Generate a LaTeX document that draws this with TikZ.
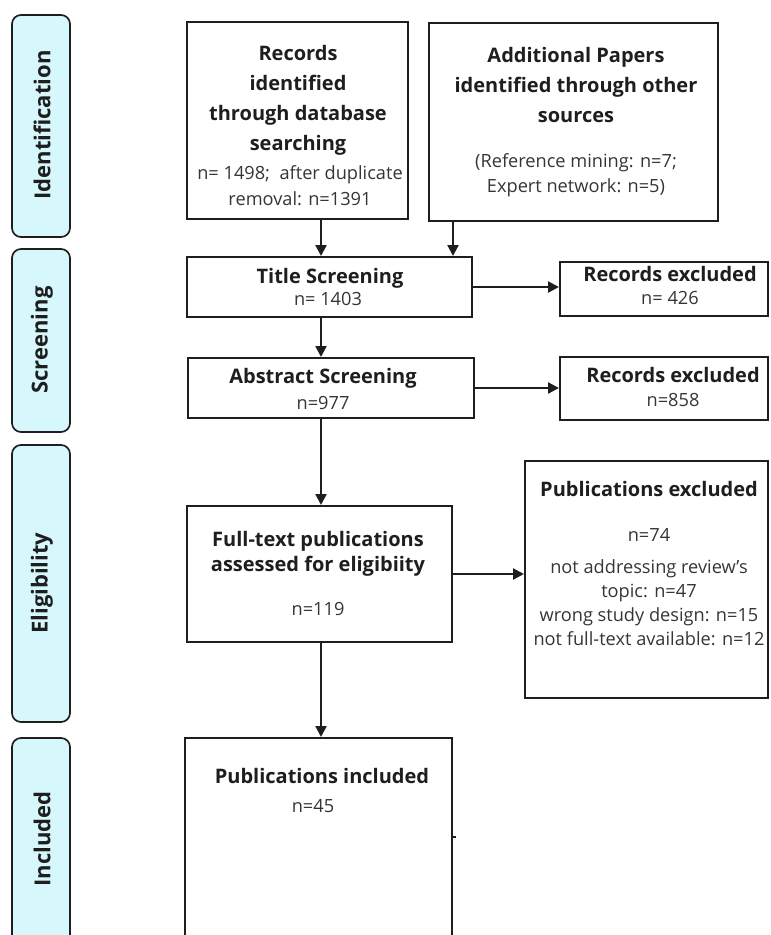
\documentclass[tikz,border=0pt]{standalone}
\usepackage{fontspec}
\setmainfont{Open Sans}
\usetikzlibrary{arrows.meta,fit}
\definecolor{stagecyan}{RGB}{214,247,252}
\definecolor{ink}{RGB}{30,30,30}
\tikzset{
	stage/.style={draw=ink, line width=1.7pt, rounded corners=9pt, fill=stagecyan, inner sep=0pt},
	stagetext/.style={rotate=90, font=\bfseries\fontsize{22}{26}\selectfont, text=ink},
	box/.style={draw=ink, line width=2pt, inner sep=0pt},
	head/.style={font=\bfseries\fontsize{20}{30}\selectfont, align=center, text=ink, inner sep=0pt},
	count/.style={font=\fontsize{18.2}{26}\selectfont, align=center, text=ink!90, inner sep=0pt},
	flow/.style={-{Triangle[length=11pt,width=11pt]}, line width=2.3pt, draw=ink}
}
\begin{document}
\begin{tikzpicture}[x=1pt,y=-1pt]%,show background grid]
	\useasboundingbox (0,0) rectangle (771,935);
	\clip (0,0) rectangle (771,935);
	% stages on the left
		\node[stage, fit={(12,15) (70,237)}] (stageid) {};
		\node[stagetext] (stageidtext) at (42,125) {Identification};
		\node[stage, fit={(12,249) (70,432)}] (stagescr) {};
		\node[stagetext] (stagescrtext) at (42,340) {Screening};
		\node[stage, fit={(12,445) (70,722)}] (stageelig) {};
		\node[stagetext] (stageeligtext) at (42,583) {Eligibility};
		\node[stage, fit={(12,738) (70,950)}] (stageinc) {};
		\node[stagetext] (stageinctext) at (42,839) {Included};
	% identification
		\node[box, fit={(187,22) (408,219)}] (records) {};
		\node[head] (recordshead) at (298,100) {Records\\identified\\through database\\searching};
		\node[count] (recordsn) at (300,186) {n= 1498;~ after duplicate\\removal: n=1391};
		\node[box, fit={(429,23) (718,221)}] (additional) {};
		\node[head] (additionalhead) at (576,85) {Additional Papers\\identified through other\\sources};
		\node[count, font=\fontsize{18.2}{25}\selectfont] (additionaln) at (576,175) {(Reference mining: n=7;\\Expert network: n=5)};
	% screening
		\node[box, fit={(187,257) (472,317)}] (title) {};
		\node[head] (titlehead) at (330,278) {Title Screening};
		\node[count] (titlen) at (328,299) {n= 1403};
		\node[box, fit={(188,358) (474,418)}] (abstract) {};
		\node[head] (abstracthead) at (323,378) {Abstract Screening};
		\node[count] (abstractn) at (323,403) {n=977};
		\node[box, fit={(560,262) (768,316)}] (recexa) {};
		\node[head] (recexahead) at (670,274) {Records excluded};
		\node[count] (recexan) at (670,298) {n= 426};
		\node[box, fit={(560,357) (768,420)}] (recexb) {};
		\node[head] (recexbhead) at (673,375) {Records excluded};
		\node[count] (recexbn) at (673,400) {n=858};
	% eligibility
		\node[box, fit={(187,506) (452,642)}] (fulltext) {};
		\node[head, font=\bfseries\fontsize{20}{25}\selectfont] (fulltexthead) at (318,554) {Full-text publications\\assessed for eligibiity};
		\node[count] (fulltextn) at (318,609) {n=119};
		\node[box, fit={(525,461) (768,698)}] (pubex) {};
		\node[head] (pubexhead) at (649,489) {Publications excluded};
		\node[count] (pubexn) at (649,535) {n=74};
		\node[count, font=\fontsize{18.2}{24}\selectfont] (pubexwhy) at (649,603) {not addressing review’s\\topic: n=47\\wrong study design: n=15\\not full-text available: n=12};
	% included
		\node[box, fit={(185,738) (452,950)}] (included) {};
		\node[head] (includedhead) at (322,776) {Publications included};
		\node[count] (includedn) at (313,806) {n=45};
		\coordinate (stub) at (456,837);
		\draw[ink, line width=2pt] (included.east |- stub) -- (stub);
	% connectors
		\coordinate (spine) at (321,0);
		\coordinate (side) at (453,0);
		\draw[flow] (records.south -| spine) -- (title.north -| spine);
		\draw[flow] (additional.south -| side) -- (title.north -| side);
		\draw[flow] (title.south -| spine) -- (abstract.north -| spine);
		\draw[flow] (abstract.south -| spine) -- (fulltext.north -| spine);
		\draw[flow] (fulltext.south -| spine) -- (included.north -| spine);
		\draw[flow] (title.east) -- (recexa.west |- title.east);
		\draw[flow] (abstract.east) -- (recexb.west |- abstract.east);
		\draw[flow] (fulltext.east) -- (pubex.west |- fulltext.east);
\end{tikzpicture}
\end{document}
